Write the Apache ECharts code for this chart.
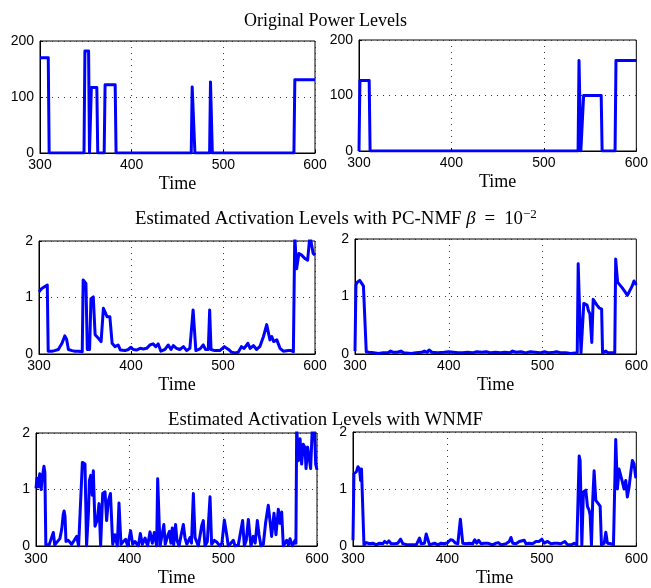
<!DOCTYPE html>
<html>
<head>
<meta charset="utf-8">
<script src="https://cdn.jsdelivr.net/npm/echarts@6/dist/echarts.min.js"></script>
<style>
html,body{margin:0;padding:0;background:#fff;}
#main{width:651px;height:588px;}
</style>
</head>
<body>
<div id="main"></div>
<script>
// ---- titles / labels ----
const rowTitles = [
  'Original Power Levels',
  'Estimated Activation Levels with PC-NMF {i|β}{g| }={g| }10{sup|−2}',
  'Estimated Activation Levels with WNMF'
];
const xAxisName = 'Time';
const xTicks = [300, 400, 500, 600];
const powerTicks = [0, 100, 200];
const actTicks = [0, 1, 2];

// ---- Panel 1: original power, appliance A ----
const p1T = [300,309,310,348,349,353,354,355,356,362,363,370,371,382,383,465,466,468,469,485,486,487,488,577,578,600];
const p1V = [170,170,0,0,182,182,0,0,117,117,0,0,122,122,0,0,118,118,0,0,127,127,0,0,131,131];

// ---- Panel 2: original power, appliance B ----
const p2T = [300,301,311,312,537,538,539,540,542,543,562,563,577,578,600];
const p2V = [0,127,127,0,0,163,163,0,0,100,100,0,0,163,163];

// ---- Panel 3: PC-NMF activation, appliance A ----
const p3T = [300,303,306,309,310,314,317,321,325,328,330,332,336,339,343,347,348,351,352.5,355,356.5,359,361,364.5,367.5,370,372,374,377,379.5,382.5,386,388.5,390.5,393.5,397,400,402.5,406,410,413.5,417,420.5,424,427,429.5,432.5,437,440.5,443.5,446,449.5,453,457,460.5,464,466,467.5,469,470.5,475,478.5,481,484,485.5,487,491,496.5,501.5,506,509.5,513,516.5,520,523,527,529.5,533,536.5,540,544,547.5,549,551,553,555,558.5,562,565.5,571,574,576.5,578,580,582.5,585.5,589,592,594.5,596.5,598,600];
const p3V = [1.10,1.16,1.19,1.22,0.05,0.05,0.06,0.08,0.19,0.32,0.26,0.08,0.06,0.05,0.05,0.04,1.31,1.25,0.08,0.08,0.98,1.01,0.34,0.28,0.22,0.81,0.78,0.66,0.66,0.19,0.13,0.16,0.07,0.10,0.06,0.08,0.12,0.08,0.07,0.10,0.09,0.10,0.16,0.18,0.13,0.18,0.05,0.08,0.16,0.08,0.15,0.10,0.08,0.13,0.06,0.10,0.08,0.78,0.75,0.06,0.09,0.16,0.08,0.08,0.78,0.08,0.06,0.06,0.13,0.08,0.03,0.02,0.03,0.13,0.10,0.19,0.10,0.15,0.08,0.13,0.31,0.52,0.52,0.25,0.31,0.22,0.25,0.10,0.05,0.06,0.06,0.04,2.1,1.51,1.78,1.75,1.69,1.66,2.1,2.1,1.78,1.75];

// ---- Panel 4: PC-NMF activation, appliance B ----
const p4T = [300,301,302.5,305,307.5,309,311,312,315,320,325,330,335,338,341,345,349,352,360,365,371,374,377,379,382,388,395,400,405,410,415,420,425,430,435,440,445,450,455,460,465,468,472,477,482,487,492,497,502,507,512,515,520,525,530,537,538,540,541,542.5,544,547.5,549,550.5,552.5,554,556,558,560.5,563,564,567.5,570,577,578,580,582,585,588,590.5,592.5,595.5,597.5,600];
const p4V = [0.05,1.20,1.25,1.28,1.22,1.18,1.15,0.04,0.03,0.02,0.01,0.02,0.02,0.05,0.03,0.03,0.05,0.02,0.01,0.02,0.03,0.05,0.03,0.07,0.03,0.02,0.03,0.04,0.03,0.02,0.02,0.03,0.02,0.04,0.03,0.04,0.02,0.03,0.02,0.03,0.02,0.05,0.03,0.04,0.02,0.04,0.03,0.02,0.04,0.02,0.03,0.04,0.02,0.02,0.01,0.02,1.57,0.5,0.02,0.02,0.88,0.85,0.75,0.70,0.20,0.95,0.97,0.85,0.80,0.78,0.02,0.05,0.02,0.02,1.65,1.25,1.22,1.15,1.08,1.02,1.00,1.18,1.27,1.20];

// ---- Panel 5: WNMF activation, appliance A ----
const p5T = [300,301,302.5,304,305.5,307,308.5,309.5,310.5,312,314,316,318.5,320,322,324,325.5,327.5,329,330,331,332,334.5,338,340,342,343.5,345.5,347,349.5,352.3,354,356,357,358.5,360,361.2,363,365.5,367.3,369,371.2,373.7,375.4,377.2,379.5,381.9,384.3,386.8,388.6,390.7,393.2,395.7,397.9,401,403.2,405.7,409.3,411.4,413.5,416.4,419.2,421.7,424.2,426.3,428.8,429.9,431.3,432.4,433,436.5,438,441,442.5,444,445.5,447,449,450.5,452.7,455,457.3,459,461,464.4,466,468,469.8,473.3,476.9,478.6,480.4,482.9,485.8,487.5,490.4,492.9,496.4,498.5,501.1,503.6,505.3,508,510.7,512.5,516,518,520.6,522.4,524.5,526.7,529.5,532,534,536.3,538.1,540.2,542.7,545.2,548,549.8,551.6,554.1,556.2,558.7,560.5,562.3,564,567.6,569.5,571.2,573.7,576.5,577.5,578.3,580.1,581.9,583.6,585.4,587.2,588.3,590,591.8,593.2,595,597.2,598.6,600];
const p5V = [1.02,1.20,1.05,1.28,1.00,1.25,1.41,1.30,0.02,0.05,0.02,0.05,0.24,0.02,0.06,0.03,0.13,0.30,0.55,0.62,0.52,0.08,0.10,0.03,0.08,0.05,0.17,0.00,0.02,1.48,1.45,0.00,0.60,1.16,1.25,0.90,1.33,0.35,0.47,0.75,0.00,0.93,0.96,0.45,0.80,0.93,0.03,0.20,0.00,0.76,0.03,0.08,0.12,0.00,0.27,0.03,0.08,0.00,0.22,0.03,0.14,0.00,0.25,0.05,0.24,0.00,1.19,1.16,0.00,0.05,0.38,0.03,0.20,0.26,0.05,0.32,0.02,0.38,0.10,0.00,0.20,0.38,0.15,0.03,0.15,0.05,0.93,0.15,0.00,0.36,0.45,0.00,0.08,0.87,0.03,0.10,0.07,0.00,0.05,0.46,0.20,0.00,0.05,0.10,0.00,0.02,0.00,0.45,0.00,0.10,0.47,0.00,0.17,0.05,0.45,0.20,0.00,0.03,0.42,0.72,0.75,0.17,0.58,0.20,0.65,0.40,0.60,0.00,0.10,0.02,0.13,0.00,0.10,0.05,2.1,1.51,1.90,1.45,1.80,1.74,1.37,1.75,1.72,1.37,2.1,2.1,1.45,1.35];

// ---- Panel 6: WNMF activation, appliance B ----
const p6T = [300,301,303.5,305.3,307,308,309,310.5,311.6,314,317.6,321,324.6,328,330,331.7,333.5,336,338,340.5,344,347.5,350.4,352.8,358,361.6,367,370.4,372.2,375.7,377.5,379.2,381,386.3,389.8,393.3,396.8,400.4,403.2,405.6,408.5,411,413.7,415,416.2,419.7,423.2,426.8,428.9,431,433,435.6,439,442.6,447.9,451.5,453.9,456.7,462,465.5,467.3,469.1,472.6,476.1,477.9,481.4,483.2,486.7,490.2,493.7,497.2,500,502.5,506,509.6,513.1,516.6,520.1,524.3,527.2,531.4,534.2,537,539.5,540.5,542.3,544,546.5,548.3,550,551.1,552.5,553.9,555.3,557.1,558.9,561.7,563.1,566,567.7,569.4,573,575.8,578.2,580,581.7,583.5,585.3,587,588.8,590.5,592.3,594,595.8,597.6,599.3,600];
const p6V = [0.10,1.27,1.30,1.39,1.35,1.15,1.35,1.35,0.02,0.06,0.04,0.05,0.02,0.05,0.07,0.04,0.08,0.05,0.09,0.04,0.04,0.05,0.12,0.04,0.02,0.02,0.02,0.14,0.04,0.05,0.21,0.12,0.02,0.05,0.02,0.05,0.04,0.06,0.11,0.10,0.05,0.04,0.47,0.46,0.05,0.04,0.05,0.04,0.11,0.05,0.10,0.04,0.05,0.05,0.02,0.05,0.06,0.02,0.04,0.08,0.15,0.05,0.04,0.08,0.05,0.10,0.04,0.05,0.04,0.08,0.08,0.12,0.05,0.08,0.04,0.05,0.05,0.04,0.08,0.02,0.02,0.05,0.02,1.58,1.50,0.02,0.95,0.98,0.69,0.63,0.54,0.02,0.83,1.32,0.80,0.77,0.70,0.02,0.05,0.24,0.05,0.04,0.02,1.87,1.00,1.35,1.32,1.12,1.00,1.15,0.86,1.03,1.27,1.50,1.44,1.21,1.20];

function zip(t, v) { return t.map((x, i) => [x, v[i]]); }

const panels = [
  { t: p1T, v: p1V, ticks: powerTicks },
  { t: p2T, v: p2V, ticks: powerTicks },
  { t: p3T, v: p3V, ticks: actTicks },
  { t: p4T, v: p4V, ticks: actTicks },
  { t: p5T, v: p5V, ticks: actTicks },
  { t: p6T, v: p6V, ticks: actTicks }
];

// layout (px)
const grids = [
  { left: 40, top: 41, width: 275, height: 112 },
  { left: 359, top: 40, width: 278, height: 111 },
  { left: 39, top: 241, width: 276, height: 113 },
  { left: 355, top: 239, width: 282, height: 115 },
  { left: 36, top: 433, width: 281, height: 115 },
  { left: 353, top: 432, width: 284, height: 116 }
];

const serif = 'Liberation Serif';
const sans = 'Liberation Sans';
const dotted = { color: '#333', width: 1, type: [1, 5] };

const option = {
  backgroundColor: '#fff',
  animation: false,
  title: [
    { text: rowTitles[0], left: 'center', top: 7, fs: 18 },
    { text: rowTitles[1], left: 130, top: 203, fs: 18.8 },
    { text: rowTitles[2], left: 'center', top: 406, fs: 18.8 }
  ].map(t => {
    const fs = t.fs; delete t.fs;
    return Object.assign(t, {
      textStyle: {
        fontFamily: serif, fontSize: fs, fontWeight: 'normal', color: '#000',
        rich: {
          i: { fontFamily: serif, fontSize: fs, fontStyle: 'italic', color: '#000' },
          g: { fontFamily: serif, fontSize: fs, width: 9, color: '#000' },
          sup: { fontFamily: serif, fontSize: 13, color: '#000', verticalAlign: 'top', padding: [0, 0, 10, 0] }
        }
      }
    });
  }),
  grid: grids.map(g => Object.assign({ show: true, borderColor: '#000', borderWidth: 1, backgroundColor: '#fff', containLabel: false }, g)),
  xAxis: panels.map((p, i) => ({
    type: 'value', gridIndex: i, min: xTicks[0], max: xTicks[xTicks.length - 1], interval: 100,
    name: xAxisName, nameLocation: 'middle', nameGap: i >= 4 ? 23 : 22,
    nameTextStyle: { fontFamily: serif, fontSize: 18, color: '#000' },
    axisLine: { show: true, lineStyle: { color: '#000', width: 1 } },
    axisTick: { show: true, inside: true, length: 3, lineStyle: { color: '#000' } },
    axisLabel: { fontFamily: sans, fontSize: 14, color: '#000', margin: i >= 4 ? 6 : 5 },
    splitLine: { show: true, lineStyle: dotted }
  })),
  yAxis: panels.map((p, i) => ({
    type: 'value', gridIndex: i, min: p.ticks[0], max: p.ticks[p.ticks.length - 1], interval: p.ticks[1] - p.ticks[0],
    axisLine: { show: true, lineStyle: { color: '#000', width: 1 } },
    axisTick: { show: true, inside: true, length: 3, lineStyle: { color: '#000' } },
    axisLabel: { fontFamily: sans, fontSize: 14, color: '#000', margin: 6 },
    splitLine: { show: true, lineStyle: dotted }
  })),
  series: panels.map((p, i) => ({
    type: 'line', xAxisIndex: i, yAxisIndex: i,
    data: zip(p.t, p.v),
    showSymbol: false, symbol: 'none', clip: true,
    lineStyle: { color: '#0000ff', width: 3, join: 'round' },
    itemStyle: { color: '#0000ff' },
    z: 2
  }))
};

const chart = echarts.init(document.getElementById('main'), null, { renderer: 'canvas' });
chart.setOption(option);
</script>
</body>
</html>
